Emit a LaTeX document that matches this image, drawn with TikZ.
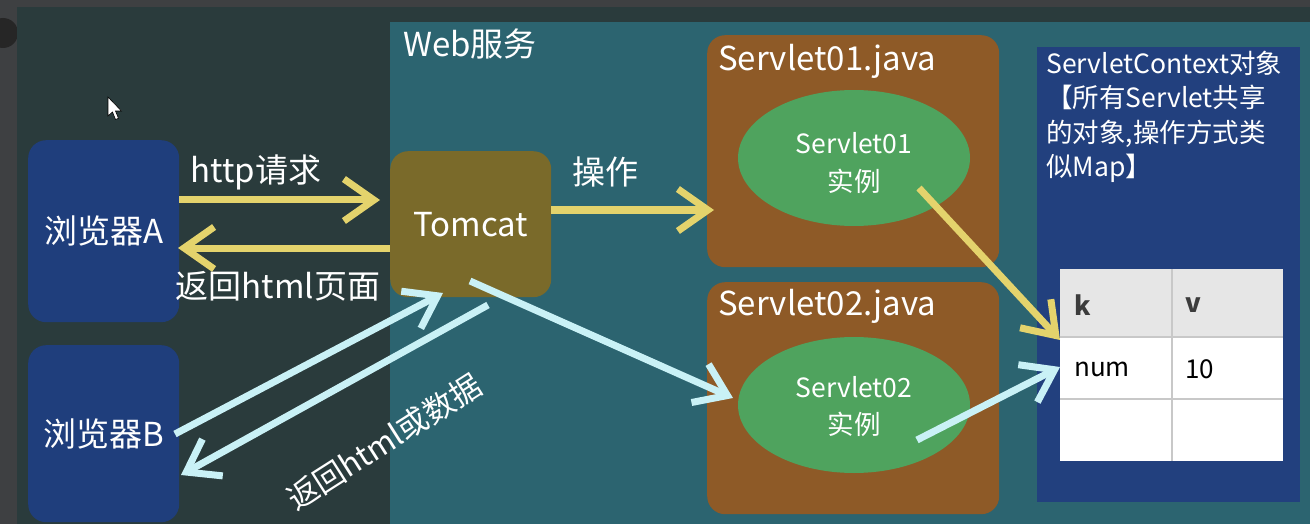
\documentclass[tikz,border=0pt]{standalone}
\usepackage{fontspec}
\setmainfont{Noto Sans CJK SC}
\usetikzlibrary{arrows.meta,shapes.geometric}
\definecolor{bordergrey}{HTML}{3E4042}
\definecolor{darkpanel}{HTML}{2A3B3C}
\definecolor{webteal}{HTML}{2C6470}
\definecolor{bblue}{HTML}{1F3E7C}
\definecolor{olive}{HTML}{7A6A2A}
\definecolor{brown}{HTML}{8E5A27}
\definecolor{egreen}{HTML}{4FA35E}
\definecolor{ctxblue}{HTML}{22407E}
\definecolor{yel}{HTML}{E4D36C}
\definecolor{cyanl}{HTML}{C9F1F6}
\definecolor{hdrgrey}{HTML}{E6E6E6}
\definecolor{gridgrey}{HTML}{C8C8C8}
\definecolor{kvgrey}{HTML}{3C3C3C}
\begin{document}
\begin{tikzpicture}[x=1pt,y=-1pt,
  bigtxt/.style={font=\fontsize{33}{38}\selectfont, text=white},
  box/.style={rounded corners=18pt, inner sep=0pt, anchor=north west},
  inst/.style={ellipse, fill=egreen, inner sep=0pt, minimum width=232pt, minimum height=136pt,
     align=center, text=white, font=\fontsize{26.5}{38}\selectfont},
  yarrow/.style={draw=yel, line width=7pt, -{Straight Barb[length=30pt,width=42pt]}},
  carrow/.style={draw=cyanl, line width=7pt, -{Straight Barb[length=30pt,width=42pt]}},
  celltxt/.style={font=\fontsize{26}{30}\selectfont, anchor=west, inner sep=0pt}
]
\useasboundingbox (0,0) rectangle (1310,524);
% backgrounds
\fill[bordergrey] (0,0) rectangle (1310,524);
\fill[black!85] (3,33) circle (15);
\fill[darkpanel] (17,7) rectangle (1310,524);
\fill[webteal] (390,22) rectangle (1310,524);
\node[bigtxt, anchor=west, inner sep=0pt] (web) at (403,44) {Web服务};
% mouse cursor
\draw[fill=white, draw=black, line width=0.6pt] (108,97) -- (108,116) -- (112.5,112) -- (115.5,119.5) -- (118.5,118.3) -- (115.5,111) -- (121.5,111) -- cycle;
% browsers
\node[box, fill=bblue, minimum width=151pt, minimum height=182pt, bigtxt] (A) at (28,140) {浏览器A};
\node[box, fill=bblue, minimum width=151pt, minimum height=177pt, bigtxt] (B) at (28,345) {浏览器B};
% tomcat
\node[box, fill=olive, minimum width=161pt, minimum height=146pt, bigtxt] (T) at (390,151) {Tomcat};
% servlet boxes
\node[box, fill=brown, minimum width=292pt, minimum height=232pt] (S1) at (707,35) {};
\node[box, fill=brown, minimum width=292pt, minimum height=232pt] (S2) at (707,282) {};
\node[bigtxt, anchor=west, inner sep=0pt] (S1t) at (718,61) {Servlet01.java};
\node[bigtxt, anchor=west, inner sep=0pt] (S2t) at (718,306) {Servlet02.java};
\node[inst] (E1) at (854,158) {};
\node[inst] (E2) at (854,405) {};
\node[text=white, align=center, font=\fontsize{26.5}{38}\selectfont, inner sep=0pt] (E1t) at (854,163) {Servlet01\\实例};
\node[text=white, align=center, font=\fontsize{26.5}{37}\selectfont, inner sep=0pt] (E2t) at (854,407) {Servlet02\\实例};
% context
\node[anchor=north west, fill=ctxblue, minimum width=263pt, minimum height=455pt, inner sep=0pt] (C) at (1037,47) {};
\node[anchor=north west, inner sep=0pt, align=left, text=white, font=\fontsize{26.5}{34.3}\selectfont] (Ct) at (1046,51)
  {ServletContext对象\\【所有Servlet共享\\的对象,操作方式类\\似Map】};
% table
\fill[white] (1060,269) rectangle (1283,461);
\fill[hdrgrey] (1060,269) rectangle (1283,337);
\draw[gridgrey, line width=1.2pt] (1060,337) -- (1283,337) (1060,399) -- (1283,399) (1172,269) -- (1172,461);
\node[celltxt, font=\bfseries\fontsize{26}{30}\selectfont, text=kvgrey] (k) at (1074,305) {k};
\node[celltxt, font=\bfseries\fontsize{26}{30}\selectfont, text=kvgrey] (v) at (1185,305) {v};
\node[celltxt, text=black] (num) at (1074,369) {num};
\node[celltxt, text=black] (ten) at (1185,369) {10};
\coordinate (tblA) at (1060,340);
\coordinate (tblB) at (1060,367);
% yellow arrows
\coordinate (a1s) at (179,200); \coordinate (a1e) at (380,200);
\coordinate (a2s) at (390,248); \coordinate (a2e) at (178,248);
\coordinate (a3s) at (551,210); \coordinate (a3e) at (714,210);
\coordinate (a4s) at (919,188);
\draw[yarrow] (a1s) -- (a1e);
\draw[yarrow] (a2s) -- (a2e);
\draw[yarrow] (a3s) -- (a3e);
\draw[yarrow] (a4s) -- (tblA);
\node[bigtxt] (lhttp) at (256,172) {http请求};
\node[bigtxt] (lret) at (278,286) {返回html页面};
\node[bigtxt] (lop) at (605,172) {操作};
% cyan arrows
\coordinate (c1s) at (175,434); \coordinate (c1e) at (443,293);
\coordinate (c2s) at (488,305); \coordinate (c2e) at (181,475);
\coordinate (c3s) at (470,281); \coordinate (c3e) at (733,398);
\coordinate (c4s) at (917,440);
\draw[carrow] (c1s) -- (c1e);
\draw[carrow] (c2s) -- (c2e);
\draw[carrow] (c3s) -- (c3e);
\draw[carrow] (c4s) -- (tblB);
\node[bigtxt, font=\fontsize{31}{36}\selectfont, rotate=32.5] (lret2) at (384,442) {返回html或数据};
\end{tikzpicture}
\end{document}
